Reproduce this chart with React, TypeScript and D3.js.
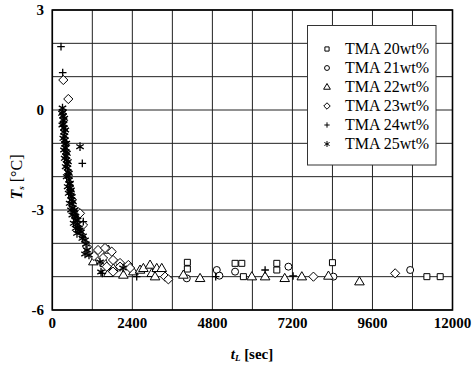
import React from "react";
import * as d3 from "d3";

const W = 472;
const H = 369;

const xTicks = [0, 2400, 4800, 7200, 9600, 12000];
const yTicks = [3, 0, -3, -6];
const seriesNames = ["TMA 20wt%", "TMA 21wt%", "TMA 22wt%", "TMA 23wt%", "TMA 24wt%", "TMA 25wt%"];

// [t (sec), Ts (°C)]
const tma20: [number, number][] = [
  [4050, -4.57], [4050, -4.77], [5481, -4.6], [5682, -4.6], [5730, -5.0],
  [6732, -4.6], [6732, -4.8], [8400, -4.58], [11232, -5.0], [11631, -5.0],
];
const tma21: [number, number][] = [
  [4032, -5.05], [4932, -4.8], [5010, -4.97], [5481, -4.85], [7080, -4.7],
  [8430, -5.0], [10731, -4.8],
];
const tma22: [number, number][] = [
  [1231, -4.55], [1581, -4.6], [1681, -4.2], [1681, -4.9], [1831, -4.75],
  [2131, -4.95], [2431, -4.85], [2631, -4.8], [2731, -4.75], [2931, -4.65],
  [2982, -4.9], [3081, -5.0], [3132, -4.75], [3282, -4.75], [3930, -4.95],
  [4431, -5.05], [5982, -5.0], [6381, -5.0], [6969, -5.05], [7482, -5.0],
  [8280, -4.98], [9210, -5.15],
];
const tma23: [number, number][] = [
  [330, 0.9], [480, 0.33], [771, -3.06], [831, -3.1], [921, -3.45],
  [1041, -4.11], [1251, -4.38], [1371, -4.2], [1521, -4.44], [1581, -4.14],
  [1632, -4.7], [1782, -4.25], [1821, -4.5], [1821, -4.85], [2031, -4.59],
  [2031, -4.7], [2280, -4.65], [2331, -4.74], [3381, -5.0], [3480, -5.08],
  [7830, -5.0], [10281, -4.9],
];
const tma24: [number, number][] = [
  [261, 1.9], [312, 1.12], [900, -1.6], [930, -3.35], [1500, -4.9],
  [2531, -5.0], [4900, -5.0], [6381, -4.8], [7221, -4.98],
];
const tma25: [number, number][] = [
  [306, 0.06], [321, -0.06], [321, -0.18], [336, -0.3], [336, -0.42],
  [351, -0.54], [351, -0.66], [366, -0.78], [381, -0.9], [381, -1.02],
  [396, -1.14], [411, -1.26], [411, -1.38], [426, -1.5], [441, -1.62],
  [456, -1.74], [471, -1.86], [486, -1.98], [501, -2.1], [516, -2.22],
  [531, -2.34], [546, -2.46], [561, -2.58], [576, -2.7], [591, -2.82],
  [621, -2.94], [651, -3.06], [681, -3.18], [711, -3.3], [756, -3.42],
  [801, -3.54], [861, -3.66], [921, -3.78], [981, -3.9], [1011, -4.02],
  [1041, -4.2], [981, -4.32], [1431, -4.56], [1461, -4.86], [2121, -4.74],
  [831, -1.1], [360, -0.25], [390, -0.6], [420, -1.0], [440, -1.3],
  [470, -1.55], [500, -1.9], [530, -2.2], [560, -2.4], [590, -2.6],
  [620, -2.75], [660, -3.0], [700, -3.2], [760, -3.3], [820, -3.6],
  [900, -3.85], [1100, -4.35], [290, -0.1], [300, -0.45], [330, -0.85],
  [350, -1.2], [370, -1.45], [400, -1.7], [430, -2.0], [460, -2.3],
  [490, -2.5], [520, -2.8], [560, -3.0], [600, -3.15], [640, -3.4],
  [700, -3.55], [740, -3.7],
];

const seriesData = [tma20, tma21, tma22, tma23, tma24, tma25];

function markerPath(kind: number, s: number): string {
  switch (kind) {
    case 0: {
      const h = 3 * s;
      return `M${-h},${-h}H${h}V${h}H${-h}Z`;
    }
    case 1: {
      const r = 3.5 * s;
      return `M${r},0A${r},${r} 0 1,1 ${-r},0A${r},${r} 0 1,1 ${r},0Z`;
    }
    case 2: {
      const w = 4.8 * s;
      return `M0,${-5 * s}L${w},${3.2 * s}L${-w},${3.2 * s}Z`;
    }
    case 3: {
      const r = 4.6 * s;
      return `M0,${-r}L${r},0L0,${r}L${-r},0Z`;
    }
    case 4: {
      const r = 3.8 * s;
      return `M${-r},0H${r}M0,${-r}V${r}`;
    }
    default: {
      const r = 4.3 * s;
      const t = r / 2;
      const u = t * Math.sqrt(3);
      return `M0,${-r}V${r}M${-u},${-t}L${u},${t}M${-u},${t}L${u},${-t}`;
    }
  }
}

export default function App() {
  const x = d3.scaleLinear().domain([0, 12000]).range([52.3, 452.5]);
  const y = d3.scaleLinear().domain([-6, 3]).range([310, 10]);
  const xGrid = d3.range(0, 12001, 1200);
  const yGrid = d3.range(-6, 3.01, 1);
  const serif = "'Liberation Serif', 'Times New Roman', serif";

  return (
    <svg width={W} height={H} style={{ position: "absolute", left: 0, top: 0, background: "#fff" }}>
      <rect x={0} y={0} width={W} height={H} fill="#fff" />
      {xGrid.map((v) => (
        <line key={"gx" + v} x1={x(v)} x2={x(v)} y1={y(-6)} y2={y(3)} stroke="#222" strokeWidth={1} />
      ))}
      {yGrid.map((v) => (
        <line key={"gy" + v} x1={x(0)} x2={x(12000)} y1={y(v)} y2={y(v)} stroke="#222" strokeWidth={1} />
      ))}
      <rect x={x(0)} y={y(3)} width={x(12000) - x(0)} height={y(-6) - y(3)} fill="none" stroke="#000" strokeWidth={1.6} />

      {seriesData.map((data, k) => (
        <g key={"s" + k}>
          {data.map((d, i) => (
            <path
              key={i}
              d={markerPath(k, 1)}
              transform={`translate(${x(d[0])},${y(d[1])})`}
              fill={k >= 4 ? "none" : "#fff"}
              stroke="#000"
              strokeWidth={k >= 4 ? 1.3 : 1}
            />
          ))}
        </g>
      ))}

      {xTicks.map((v) => (
        <text key={"xt" + v} x={x(v)} y={328} textAnchor="middle" fontFamily={serif} fontWeight="bold" fontSize={15}>
          {v}
        </text>
      ))}
      {yTicks.map((v) => (
        <text key={"yt" + v} x={44} y={y(v) + 5} textAnchor="end" fontFamily={serif} fontWeight="bold" fontSize={15}>
          {v}
        </text>
      ))}

      <text x={252} y={359} textAnchor="middle" fontFamily={serif} fontSize={15} fontWeight="bold">
        <tspan fontStyle="italic">t</tspan>
        <tspan fontSize={9} dy={2} fontStyle="italic">L</tspan>
        <tspan dy={-2}> [sec]</tspan>
      </text>
      <text
        transform="translate(22,177) rotate(-90)"
        textAnchor="middle"
        fontFamily={serif}
        fontSize={16}
      >
        <tspan fontStyle="italic" fontWeight="bold">T</tspan>
        <tspan fontSize={9} dy={2} fontStyle="italic" fontWeight="bold">s</tspan>
        <tspan dy={-2}> [°C]</tspan>
      </text>

      <rect x={307.5} y={25.5} width={128.5} height={139.5} fill="#fff" stroke="#333" strokeWidth={1} />
      {seriesNames.map((name, k) => (
        <g key={"lg" + k}>
          <path
            d={markerPath(k, 0.7)}
            transform={`translate(327,${49 + k * 19})`}
            fill="none"
            stroke="#000"
            strokeWidth={1}
          />
          <text x={345} y={49 + k * 19 + 5} fontFamily={serif} fontSize={16}>
            {name}
          </text>
        </g>
      ))}
    </svg>
  );
}
